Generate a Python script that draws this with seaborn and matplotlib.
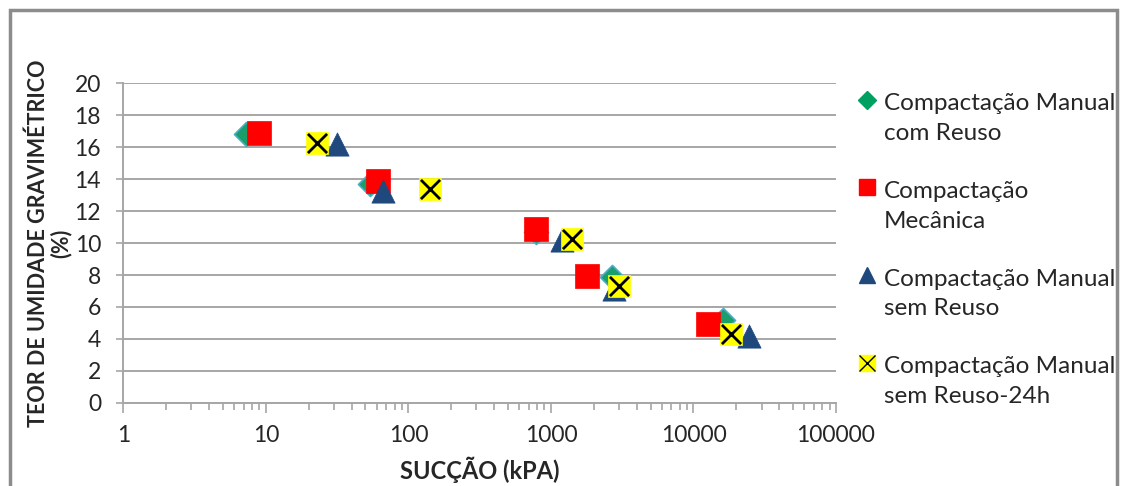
import matplotlib
matplotlib.use("Agg")
import matplotlib.pyplot as plt
import seaborn as sns
from matplotlib.lines import Line2D
from matplotlib.patches import Rectangle
from matplotlib.legend_handler import HandlerLine2D
from matplotlib.transforms import Affine2D
from matplotlib.ticker import LogLocator, FixedLocator, NullFormatter

sns.set_style("white")
plt.rcParams['font.family'] = ['Lato', 'DejaVu Sans']

# ---- data ----
series_names = ["Compactação Manual\ncom Reuso",
                "Compactação\nMecânica",
                "Compactação Manual\nsem Reuso",
                "Compactação Manual\nsem Reuso-24h"]
succao_com_reuso = [7.2, 54, 780, 2700, 16000]
umidade_com_reuso = [16.85, 13.7, 10.7, 7.85, 5.2]
succao_mecanica = [8.9, 61, 780, 1780, 12600]
umidade_mecanica = [16.9, 13.9, 10.9, 7.95, 4.9]
succao_sem_reuso = [31.8, 66, 1190, 2760, 24500]
umidade_sem_reuso = [16.2, 13.25, 10.2, 7.1, 4.2]
succao_24h = [22.7, 141, 1400, 3000, 18300]
umidade_24h = [16.3, 13.4, 10.25, 7.3, 4.3]
y_ticks = [0, 2, 4, 6, 8, 10, 12, 14, 16, 18, 20]
x_ticks = [1, 10, 100, 1000, 10000, 100000]

DPI = 100
fig = plt.figure(figsize=(11.21, 4.86), dpi=DPI)
ax = fig.add_axes([0.110, 0.1714, 0.6358, 0.6568])

green, red, blue, yellow = "#1a9e6a", "#ff0000", "#1f497d", "#ffff00"

sns.scatterplot(x=succao_com_reuso, y=umidade_com_reuso, ax=ax, marker="D",
                s=150, color=green, edgecolor="#4bacc6", linewidth=1.2, zorder=3)
sns.scatterplot(x=succao_mecanica, y=umidade_mecanica, ax=ax, marker="s",
                s=300, color=red, edgecolor=red, linewidth=0.5, zorder=4)
sns.scatterplot(x=succao_sem_reuso, y=umidade_sem_reuso, ax=ax, marker="^",
                s=280, color=blue, edgecolor=blue, linewidth=0.5, zorder=5)
sns.scatterplot(x=succao_24h, y=umidade_24h, ax=ax, marker="s",
                s=260, color=yellow, edgecolor=yellow, linewidth=0.5, zorder=6)
ax.scatter(succao_24h, umidade_24h, marker="x", s=190, color="black",
           linewidth=2.0, zorder=7)

ax.set_xscale("log")
ax.set_xlim(1, 100000)
ax.set_ylim(0, 20)
ax.xaxis.set_major_locator(FixedLocator(x_ticks))
ax.set_xticklabels([str(v) for v in x_ticks])
ax.xaxis.set_minor_locator(LogLocator(base=10, subs=range(2, 10)))
ax.xaxis.set_minor_formatter(NullFormatter())
ax.set_yticks(y_ticks)
ax.set_yticklabels([str(v) for v in y_ticks])

grid_c = "#a6a6a6"
ax.grid(axis="y", color=grid_c, linewidth=1.4)
ax.grid(axis="x", visible=False)
ax.set_axisbelow(True)
for side in ["top", "right"]:
    ax.spines[side].set_visible(False)
for side in ["left", "bottom"]:
    ax.spines[side].set_color(grid_c)
    ax.spines[side].set_linewidth(1.4)

ax.tick_params(axis="x", which="major", direction="out", length=7, width=1.2,
               color=grid_c, labelsize=16.5, labelcolor="#262626", pad=9, bottom=True)
ax.tick_params(axis="x", which="minor", direction="out", length=5, width=1.2,
               color=grid_c, bottom=True)
ax.tick_params(axis="y", which="major", direction="out", length=5, width=1.2,
               color=grid_c, labelsize=16.5, labelcolor="#262626", pad=11, left=True)

ax.set_xlabel("SUCÇÃO (kPA)", fontsize=17, fontweight="bold", color="#262626")
ax.xaxis.set_label_coords(0.5, -0.17)
ax.set_ylabel("TEOR DE UMIDADE GRAVIMÉTRICO\n(%)", fontsize=15.5,
              fontweight="bold", linespacing=1.05, color="#262626")
ax.yaxis.set_label_coords(-0.072, 0.5)


class FirstLineHandler(HandlerLine2D):
    """Place the legend marker at the first line of a two-line label."""
    def __init__(self, dy_px, **kw):
        super().__init__(**kw)
        self.dy_px = dy_px

    def create_artists(self, legend, orig_handle, xdescent, ydescent,
                       width, height, fontsize, trans):
        arts = super().create_artists(legend, orig_handle, xdescent, ydescent,
                                      width, height, fontsize, trans)
        for a in arts:
            a.set_transform(trans + Affine2D().translate(0, self.dy_px))
        return arts


handles = [
    Line2D([], [], linestyle="none", marker="D", markersize=9,
           markerfacecolor="#00a060", markeredgecolor="#00a060"),
    Line2D([], [], linestyle="none", marker="s", markersize=12,
           markerfacecolor=red, markeredgecolor=red),
    Line2D([], [], linestyle="none", marker="^", markersize=12,
           markerfacecolor=blue, markeredgecolor=blue),
    (Line2D([], [], linestyle="none", marker="s", markersize=12,
            markerfacecolor=yellow, markeredgecolor=yellow),
     Line2D([], [], linestyle="none", marker="x", markersize=11,
            markeredgecolor="black", markeredgewidth=1.0)),
]
leg = fig.legend(handles, series_names, loc="upper left",
                 bbox_to_anchor=(0.757, 0.828), frameon=False, fontsize=17.5,
                 handlelength=0.7, handletextpad=0.35, labelspacing=1.53,
                 borderaxespad=0, labelcolor="#262626",
                 handler_map={Line2D: FirstLineHandler(19)})
for t in leg.get_texts():
    t.set_linespacing(1.5)

fig.patches.append(Rectangle((0.009, -0.5), 0.987, 1.48,
                             transform=fig.transFigure, fill=False,
                             edgecolor="#8c8c8c", linewidth=2.5))

fig.savefig("out.png", dpi=DPI)
